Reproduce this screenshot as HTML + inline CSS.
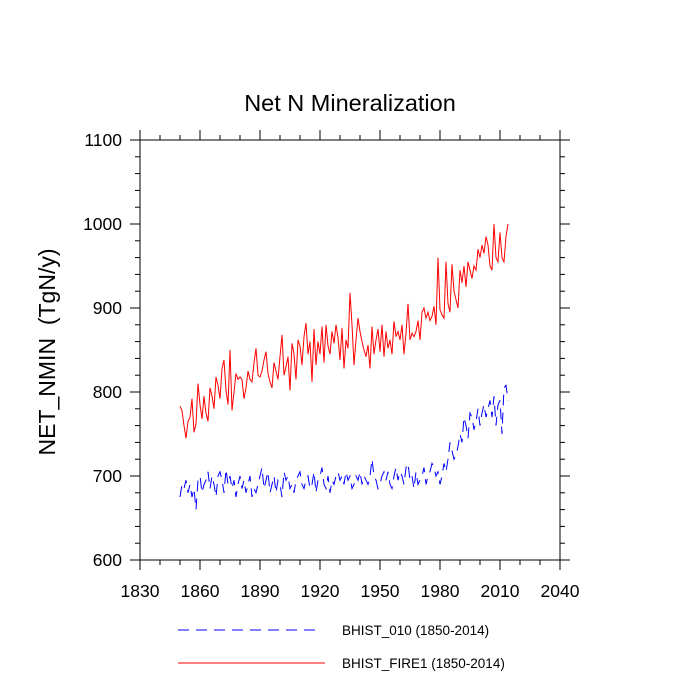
<!DOCTYPE html>
<html><head><meta charset="utf-8"><style>
body{margin:0;background:#fff}
svg{display:block;font-family:"Liberation Sans",sans-serif}
</style></head><body>
<svg id="chart" width="700" height="700">
<text x="350" y="111" text-anchor="middle" font-size="23.5">Net N Mineralization</text>
<text transform="translate(55,352) rotate(-90)" text-anchor="middle" font-size="23" style="white-space:pre">NET_NMIN  (TgN/y)</text>
<g stroke="#000" stroke-width="1">
<line x1="130" y1="140" x2="570" y2="140"/>
<line x1="130" y1="560" x2="570" y2="560"/>
<line x1="140" y1="130" x2="140" y2="570"/>
<line x1="560" y1="130" x2="560" y2="570"/>
</g>
<g id="ticks"></g>
<g id="series"></g>
<line x1="178" y1="630" x2="318" y2="630" stroke="#0000ff" stroke-width="1" stroke-dasharray="11,7"/>
<text x="342" y="635" font-size="13.5">BHIST_010 (1850-2014)</text>
<line x1="178" y1="663" x2="325" y2="663" stroke="#ff0000" stroke-width="1"/>
<text x="342" y="668" font-size="13.5">BHIST_FIRE1 (1850-2014)</text>
</svg>
<script>
const startYear = 1850;
const xTicks = [1830,1860,1890,1920,1950,1980,2010,2040];
const yTicks = [600,700,800,900,1000,1100];
const fire1 = [783,778,760,745,765,770,792,752,762,810,
785,768,795,775,765,805,795,780,818,808,
792,828,838,802,785,850,778,800,822,815,
818,815,792,805,825,815,812,835,852,820,
818,825,838,848,822,812,805,835,825,815,
842,868,820,830,842,802,858,845,815,862,
855,832,866,882,845,860,812,875,832,860,
845,878,835,880,855,845,872,858,880,865,
838,876,828,862,852,918,880,832,862,888,
872,860,850,842,856,828,878,845,862,875,
848,880,842,872,852,862,845,884,866,872,
862,880,845,870,905,862,870,866,872,885,
862,895,900,888,895,885,890,902,880,960,
898,892,888,955,905,895,952,920,910,900,
945,930,950,925,955,945,935,950,945,970,
960,975,965,985,975,950,945,1000,960,955,990,960,955,985,1000];
const bhist010 = [675,690,685,695,680,690,675,685,660,695,
700,680,690,695,705,685,700,690,675,700,
705,695,680,708,690,700,685,695,675,690,
700,685,695,680,690,700,675,685,680,690,
700,710,685,695,705,680,690,700,680,695,
690,675,705,695,700,685,690,680,695,700,
705,690,685,695,700,685,690,705,680,695,
700,710,690,685,700,680,695,690,700,705,
695,700,690,705,695,700,685,690,700,695,
705,690,700,695,690,700,720,700,695,685,
690,700,705,695,705,690,685,700,710,695,
705,700,690,710,715,695,700,685,705,690,
695,700,710,690,700,705,715,710,700,705,
690,700,715,705,720,740,730,720,725,735,
750,740,770,760,745,775,770,755,765,780,
760,775,785,770,780,790,770,795,760,785,790,750,805,808,790];
const NS='http://www.w3.org/2000/svg';
const xs = y => 140 + (y-1830)*420/210;
const ys = v => 560 - (v-600)*420/500;
const tg=document.getElementById('ticks');
function mk(t,a,p){const e=document.createElementNS(NS,t);for(const k in a)e.setAttribute(k,a[k]);p.appendChild(e);return e;}
xTicks.forEach(t=>{
  const x=xs(t);
  const b=mk('line',{x1:x,y1:560,x2:x,y2:570,stroke:'#000'},tg);
  
  
  const l2=mk('line',{x1:x,y1:140,x2:x,y2:130,stroke:'#000'},tg);
  
  
  const tx=mk('text',{x:x,y:597,'text-anchor':'middle','font-size':17.5},tg);
  tx.textContent=t;
  
  
});
for(let y=1830;y<=2040;y+=10){if((y-1830)%30){const x=xs(y);
 const m=mk('line',{x1:x,y1:560,x2:x,y2:565,stroke:'#000'},tg);
 
 
 const m2=mk('line',{x1:x,y1:140,x2:x,y2:135,stroke:'#000'},tg);
 
 }}
yTicks.forEach(t=>{
  const y=ys(t);
  const l=mk('line',{x1:130,y1:y,x2:140,y2:y,stroke:'#000'},tg);
  
  
  const r=mk('line',{x1:560,y1:y,x2:570,y2:y,stroke:'#000'},tg);
  
  
  const tx=mk('text',{x:122,y:y+6,'text-anchor':'end','font-size':17.5},tg);
  tx.textContent=t;
  
  
});
for(let v=620;v<1100;v+=20){if(v%100){const y=ys(v);
 const m=mk('line',{x1:135,y1:y,x2:140,y2:y,stroke:'#000'},tg);
 
 
 const m2=mk('line',{x1:560,y1:y,x2:565,y2:y,stroke:'#000'},tg);
 
 }}
const sg=document.getElementById('series');
const pts=a=>a.map((v,i)=>xs(startYear+i).toFixed(1)+','+ys(v).toFixed(1)).join(' ');
const pb=mk('polyline',{points:pts(bhist010),fill:'none',stroke:'#0000ff','stroke-width':1,'stroke-dasharray':'11,7'},sg);


const pr=mk('polyline',{points:pts(fire1),fill:'none',stroke:'#ff0000','stroke-width':1}, sg);


</script>
</body></html>
